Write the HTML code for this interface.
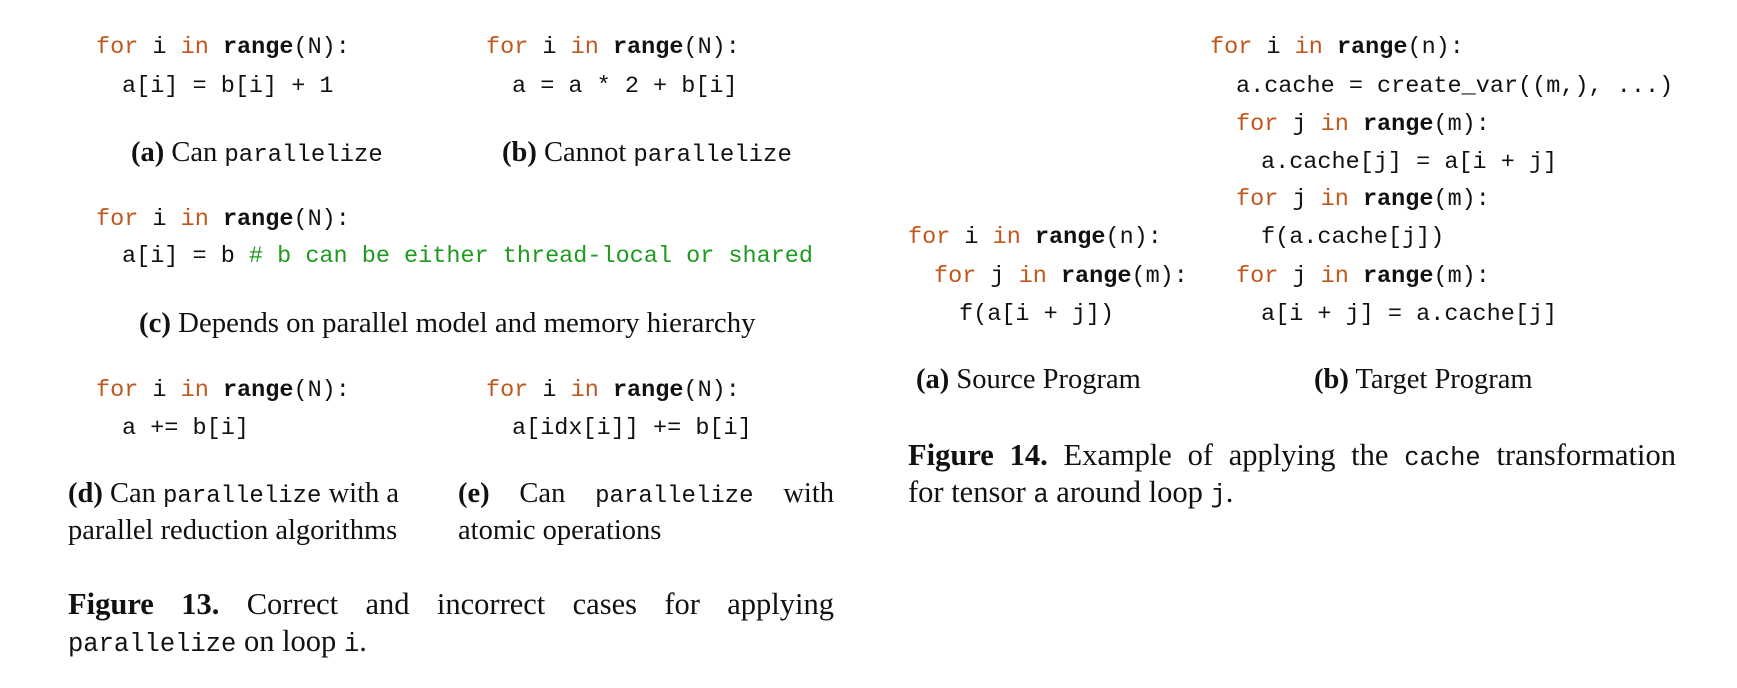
<!DOCTYPE html>
<html><head><meta charset="utf-8"><style>
body{margin:0;width:1737px;height:688px;background:#fff;position:relative;overflow:hidden;color:#111}
.c,.s{position:absolute;white-space:pre;line-height:38px;height:38px}
.c{font-family:"Liberation Mono",monospace;font-size:23.5px}
.s{font-family:"Liberation Serif",serif;font-size:28.5px}
.f{font-size:30.5px}
.m{font-family:"Liberation Mono",monospace;font-size:24px}
.f .m{font-size:25.5px}
.k{color:#c0571c}
.r{font-weight:bold}
.g{color:#1e9a1e}
.j{white-space:normal;text-align:justify;text-align-last:justify}
</style></head><body>
<div class="c" style="left:96px;top:29px"><span class="k">for</span> i <span class="k">in</span> <span class="r">range</span>(N):</div>
<div class="c" style="left:122px;top:68px">a[i] = b[i] + 1</div>
<div class="c" style="left:486px;top:29px"><span class="k">for</span> i <span class="k">in</span> <span class="r">range</span>(N):</div>
<div class="c" style="left:512px;top:68px">a = a * 2 + b[i]</div>
<div class="s" style="left:131px;top:134px"><b>(a)</b> Can <span class="m">parallelize</span></div>
<div class="s" style="left:502px;top:134px"><b>(b)</b> Cannot <span class="m">parallelize</span></div>
<div class="c" style="left:96px;top:201px"><span class="k">for</span> i <span class="k">in</span> <span class="r">range</span>(N):</div>
<div class="c" style="left:122px;top:238px">a[i] = b <span class="g"># b can be either thread-local or shared</span></div>
<div class="s" style="left:139px;top:304px;font-size:28.8px"><b>(c)</b> Depends on parallel model and memory hierarchy</div>
<div class="c" style="left:96px;top:372px"><span class="k">for</span> i <span class="k">in</span> <span class="r">range</span>(N):</div>
<div class="c" style="left:122px;top:410px">a += b[i]</div>
<div class="c" style="left:486px;top:372px"><span class="k">for</span> i <span class="k">in</span> <span class="r">range</span>(N):</div>
<div class="c" style="left:512px;top:410px">a[idx[i]] += b[i]</div>
<div class="s" style="left:68px;top:475px"><b>(d)</b> Can <span class="m">parallelize</span> with a</div>
<div class="s" style="left:68px;top:512px">parallel reduction algorithms</div>
<div class="s j" style="left:458px;top:475px;width:376px"><b>(e)</b> Can <span class="m">parallelize</span> with</div>
<div class="s" style="left:458px;top:512px">atomic operations</div>
<div class="s f j" style="left:68px;top:585px;width:766px"><b>Figure 13.</b> Correct and incorrect cases for applying</div>
<div class="s f" style="left:68px;top:622px"><span class="m">parallelize</span> on loop <span class="m">i</span>.</div>

<div class="c" style="left:908px;top:219px"><span class="k">for</span> i <span class="k">in</span> <span class="r">range</span>(n):</div>
<div class="c" style="left:934px;top:258px"><span class="k">for</span> j <span class="k">in</span> <span class="r">range</span>(m):</div>
<div class="c" style="left:959px;top:296px">f(a[i + j])</div>
<div class="c" style="left:1210px;top:29px"><span class="k">for</span> i <span class="k">in</span> <span class="r">range</span>(n):</div>
<div class="c" style="left:1236px;top:68px">a.cache = create_var((m,), ...)</div>
<div class="c" style="left:1236px;top:106px"><span class="k">for</span> j <span class="k">in</span> <span class="r">range</span>(m):</div>
<div class="c" style="left:1261px;top:144px">a.cache[j] = a[i + j]</div>
<div class="c" style="left:1236px;top:181px"><span class="k">for</span> j <span class="k">in</span> <span class="r">range</span>(m):</div>
<div class="c" style="left:1261px;top:219px">f(a.cache[j])</div>
<div class="c" style="left:1236px;top:258px"><span class="k">for</span> j <span class="k">in</span> <span class="r">range</span>(m):</div>
<div class="c" style="left:1261px;top:296px">a[i + j] = a.cache[j]</div>
<div class="s" style="left:916px;top:361px"><b>(a)</b> Source Program</div>
<div class="s" style="left:1314px;top:361px"><b>(b)</b> Target Program</div>
<div class="s f j" style="left:908px;top:436px;width:768px"><b>Figure 14.</b> Example of applying the <span class="m">cache</span> transformation</div>
<div class="s f" style="left:908px;top:473px">for tensor <span class="m">a</span> around loop <span class="m">j</span>.</div>
</body></html>
